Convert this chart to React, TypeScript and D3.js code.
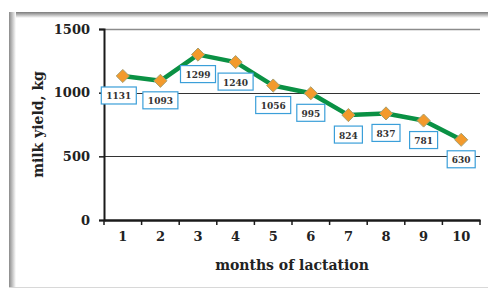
import { useEffect, useRef } from 'react';
import * as d3 from 'd3';

const W = 488;
const H = 288;
const [mt, mr, mb, ml] = [29, 8, 68, 104];

const months = ['1', '2', '3', '4', '5', '6', '7', '8', '9', '10'];
const yields = [1131, 1093, 1299, 1240, 1056, 995, 824, 837, 781, 630];
const yTicks = [0, 500, 1000, 1500];

const serif = '"DejaVu Serif", "Liberation Serif", serif';

export default function App() {
    const ref = useRef<SVGSVGElement>(null);

    useEffect(() => {
        const svg = d3.select(ref.current);
        svg.selectAll('*').remove();

        const defs = svg.append('defs');
        const gl = defs.append('linearGradient').attr('id', 'shL').attr('x1', 0).attr('x2', 1).attr('y1', 0).attr('y2', 0);
        gl.append('stop').attr('offset', 0).attr('stop-color', '#8a8a8a');
        gl.append('stop').attr('offset', 1).attr('stop-color', '#ffffff');
        const gt = defs.append('linearGradient').attr('id', 'shT').attr('x1', 0).attr('x2', 0).attr('y1', 0).attr('y2', 1);
        gt.append('stop').attr('offset', 0).attr('stop-color', '#7a7a7a');
        gt.append('stop').attr('offset', 1).attr('stop-color', '#ffffff');

        // card frame with soft shadow on the top and left
        svg.append('rect').attr('width', W).attr('height', H).attr('fill', '#ffffff');
        svg.append('rect').attr('x', 9).attr('y', 12).attr('width', W - 9).attr('height', 6).attr('fill', 'url(#shT)');
        svg.append('rect').attr('x', 9).attr('y', 12).attr('width', 7).attr('height', H - 13).attr('fill', 'url(#shL)');
        svg.append('line').attr('x1', 9).attr('x2', W).attr('y1', 287.5).attr('y2', 287.5).attr('stroke', '#d8d8d8');

        const gw = W - ml - mr;
        const gh = H - mt - mb;
        const g = svg.append('g').attr('transform', `translate(${ml},${mt})`);

        const x = d3.scaleBand().domain(months).range([0, gw]);
        const y = d3.scaleLinear().domain([0, 1500]).range([gh, 0]);

        // gridlines
        g.selectAll('line.grid')
            .data(yTicks.filter((t) => t > 0))
            .enter()
            .append('line')
            .attr('x1', 0)
            .attr('x2', gw)
            .attr('y1', (d) => Math.round(y(d)) + 0.5)
            .attr('y2', (d) => Math.round(y(d)) + 0.5)
            .attr('stroke', (d) => (d === 1500 ? '#8c8c8c' : '#333333'))
            .attr('stroke-width', (d) => (d === 1500 ? 1.5 : 1));

        // y axis
        const yAxis = d3.axisLeft(y).tickValues(yTicks).tickFormat(d3.format('d')).tickSize(5).tickPadding(9);
        g.append('g')
            .call(yAxis)
            .call((a) => a.select('.domain').attr('stroke', '#1a1a1a').attr('stroke-width', 2))
            .call((a) => a.selectAll('.tick line').attr('stroke', '#1a1a1a').attr('stroke-width', 1.5))
            .call((a) =>
                a.selectAll('.tick text').attr('font-family', serif).attr('font-weight', 'bold').attr('font-size', 13).attr('fill', '#222')
            );

        // x axis
        const xAxis = d3.axisBottom(x).tickSize(0).tickPadding(12);
        const xg = g.append('g').attr('transform', `translate(0,${gh})`).call(xAxis);
        xg.select('.domain').attr('stroke', '#1a1a1a').attr('stroke-width', 2.5);
        xg.selectAll('.tick text').attr('font-family', serif).attr('font-weight', 'bold').attr('font-size', 13).attr('fill', '#222');
        xg.selectAll('line.bt')
            .data(months)
            .enter()
            .append('line')
            .attr('x1', (d) => x(d)!)
            .attr('x2', (d) => x(d)!)
            .attr('y1', 0)
            .attr('y2', 5)
            .attr('stroke', '#1a1a1a')
            .attr('stroke-width', 1.5);
        xg.append('line').attr('x1', gw).attr('x2', gw).attr('y1', 0).attr('y2', 5).attr('stroke', '#1a1a1a').attr('stroke-width', 1.5);

        const cx = (i: number) => x(months[i])! + x.bandwidth() / 2;

        // line
        const line = d3
            .line<number>()
            .x((_, i) => cx(i))
            .y((d) => y(d));
        g.append('path')
            .datum(yields)
            .attr('d', line)
            .attr('fill', 'none')
            .attr('stroke', '#0a9144')
            .attr('stroke-width', 4.5)
            .attr('stroke-linejoin', 'round');

        // diamond markers
        const sym = d3.symbol().type(d3.symbolDiamond2).size(110);
        g.selectAll('path.m')
            .data(yields)
            .enter()
            .append('path')
            .attr('d', sym)
            .attr('transform', (d, i) => `translate(${cx(i)},${y(d)})`)
            .attr('fill', '#f39a2c')
            .attr('stroke', '#a8a070')
            .attr('stroke-width', 1);

        // data labels in boxes
        const lbl = g
            .selectAll('g.lbl')
            .data(yields)
            .enter()
            .append('g')
            .attr('transform', (d, i) => `translate(${cx(i) - (i === 0 ? 4 : 0)},${y(d) + 11})`);
        lbl.append('rect')
            .attr('x', (d) => (String(d).length === 4 ? -17.5 : -14))
            .attr('y', 0)
            .attr('width', (d) => (String(d).length === 4 ? 35 : 28))
            .attr('height', 17)
            .attr('fill', '#ffffff')
            .attr('stroke', '#3b9fd9')
            .attr('stroke-width', 1.2);
        lbl.append('text')
            .attr('x', 0)
            .attr('y', 12.5)
            .attr('text-anchor', 'middle')
            .attr('font-family', serif)
            .attr('font-weight', 'bold')
            .attr('font-size', 9)
            .attr('fill', '#333')
            .text((d) => d);

        // axis titles
        svg.append('text')
            .attr('transform', `translate(43,${mt + gh / 2}) rotate(-90)`)
            .attr('text-anchor', 'middle')
            .attr('font-family', serif)
            .attr('font-weight', 'bold')
            .attr('font-size', 14)
            .attr('fill', '#222')
            .text('milk yield, kg');
        svg.append('text')
            .attr('x', ml + gw / 2)
            .attr('y', 270)
            .attr('text-anchor', 'middle')
            .attr('font-family', serif)
            .attr('font-weight', 'bold')
            .attr('font-size', 14)
            .attr('fill', '#222')
            .text('months of lactation');
    }, []);

    return (
        <div style={{ position: 'fixed', left: 0, top: 0 }}>
            <svg ref={ref} width={W} height={H} style={{ display: 'block' }} />
        </div>
    );
}
